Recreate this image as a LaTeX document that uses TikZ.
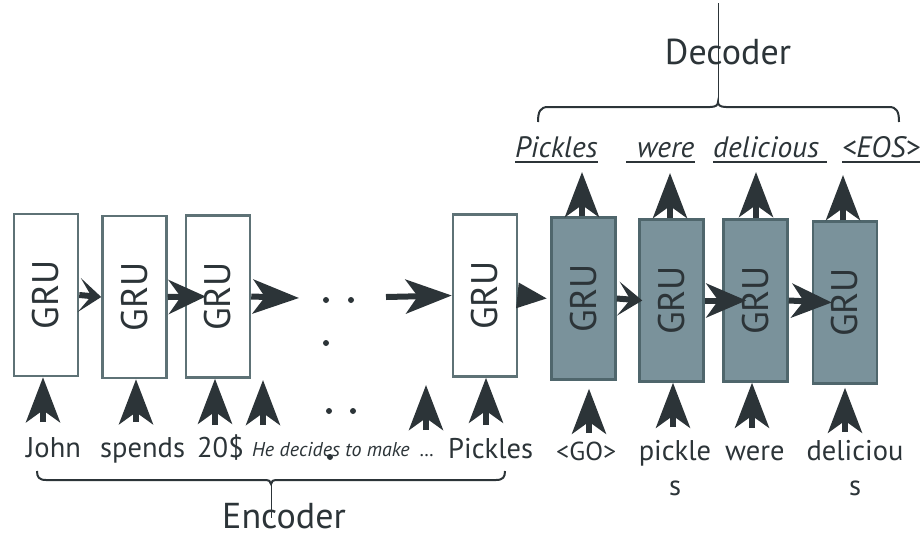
\documentclass[tikz,border=0pt]{standalone}
\usepackage{fontspec}
\setmainfont{PT Sans}
\usetikzlibrary{arrows.meta}

\definecolor{ink}{HTML}{2C3438}
\definecolor{encedge}{HTML}{5E7276}
\definecolor{decfill}{HTML}{7A929B}
\definecolor{decedge}{HTML}{4F666C}

\tikzset{
  encbox/.style={draw=encedge, fill=white, line width=2.5pt, minimum width=64pt, minimum height=162pt, inner sep=0pt},
  decbox/.style={draw=decedge, fill=decfill, line width=2.5pt, minimum width=64pt, minimum height=162pt, inner sep=0pt},
  gru/.style={font=\fontsize{37}{40}\selectfont, text=ink, rotate=90},
  flow/.style={draw=ink, line width=6pt, -{Stealth[length=#1, width=34pt, inset=12pt]}},
  flow/.default=45pt,
  word/.style={font=\fontsize{28.5}{35}\selectfont, text=ink, inner sep=0pt},
  small/.style={font=\fontsize{26}{28}\selectfont, text=ink, inner sep=0pt},
  aside/.style={font=\fontsize{20}{24}\selectfont\itshape, text=ink, inner sep=0pt},
  outword/.style={font=\fontsize{29.5}{34}\selectfont\itshape, text=ink, inner sep=0pt, anchor=base west},
  title/.style={font=\fontsize{36}{40}\selectfont, text=ink, inner sep=0pt, anchor=base},
  uline/.style={draw=ink, line width=2pt},
  brace/.style={draw=ink, line width=2pt},
  braceline/.style={draw=ink, line width=1pt},
  dot/.style={fill=ink},
}

\begin{document}
\begin{tikzpicture}[x=1pt, y=-1pt]
\useasboundingbox (0,0) rectangle (920,536);

% encoder cells
\node[encbox] (e1) at (46,295) {};
\node[encbox] (e2) at (134.5,297) {};
\node[encbox] (e3) at (218,296.5) {};
\node[encbox] (e4) at (485,295.5) {};
% decoder cells
\node[decbox] (d1) at (583.5,298.5) {};
\node[decbox] (d2) at (671.5,300.5) {};
\node[decbox] (d3) at (755.5,300.5) {};
\node[decbox] (d4) at (845,302.5) {};

% recurrent connections
\coordinate (gap) at (299,298);
\coordinate (resume) at (386,297);
\draw[flow=22pt] (e1.east) -- (e2.west);
\draw[flow=37pt] (e2.east) -- ([xshift=21pt]e3.west);
\draw[flow=46pt] (e3.east) -- (gap);
\draw[flow=46pt] (resume) -- (e4.west);
\draw[draw=ink, line width=6pt, -{Triangle[length=30pt, width=24pt]}] (e4.east) -- ([xshift=-3pt]d1.west);
\draw[flow=24pt] (d1.east) -- ([xshift=4pt]d2.west);
\draw[flow=40pt] (d2.east) -- ([xshift=24pt]d3.west);
\draw[flow=40pt] (d3.east) -- ([xshift=20pt]d4.west);

% cell labels
\foreach \c in {e1,e2,e3,e4,d1,d2,d3,d4}
  \node[gru] at (\c) {GRU};

% elided steps
\foreach \p in {(326,300),(351,300),(326,343),(329,411),(353,411),(330,457)}
  \fill[dot] \p circle (3pt);

% inputs
\coordinate (i1) at (43,422);
\coordinate (i2) at (136,422);
\coordinate (i3) at (215,425);
\coordinate (i4) at (263,425);
\coordinate (i4t) at (263,380);
\coordinate (i5) at (426,430);
\coordinate (i5t) at (426,385);
\coordinate (i6) at (486,425);
\coordinate (g1) at (589,433);
\coordinate (g2) at (673,427);
\coordinate (g3) at (752,428);
\coordinate (g4) at (845,432);
\draw[flow] (i1) -- (i1 |- e1.south);
\draw[flow] (i2) -- (i2 |- e2.south);
\draw[flow] (i3) -- (i3 |- e3.south);
\draw[flow] (i4) -- (i4t);
\draw[flow] (i5) -- (i5t);
\draw[flow] (i6) -- (i6 |- e4.south);
\draw[flow] (g1) -- ([yshift=-8pt]g1 |- d1.south);
\draw[flow] (g2) -- (g2 |- d2.south);
\draw[flow] (g3) -- (g3 |- d3.south);
\draw[flow] (g4) -- ([yshift=-3pt]g4 |- d4.south);

% outputs
\coordinate (o1t) at (582,172);
\coordinate (o2t) at (670,173);
\coordinate (o3t) at (756,172);
\coordinate (o4t) at (843,175);
\draw[flow] (o1t |- d1.north) -- (o1t);
\draw[flow] (o2t |- d2.north) -- (o2t);
\draw[flow] (o3t |- d3.north) -- (o3t);
\draw[flow] (o4t |- d4.north) -- (o4t);

% input words
\node[word, anchor=base west] (w1) at (26,457) {John};
\node[word, anchor=base west] (w2) at (100,457) {spends};
\node[word, anchor=base west] (w3) at (197,457) {20\$};
\node[aside, anchor=base west] (w4) at (252,456) {He decides to make};
\node[aside, anchor=base west] (w5) at (420,456) {…};
\node[word, anchor=base west] (w6) at (448,458) {Pickles};
\node[small, anchor=base west] (w7) at (556,460) {<GO>};
\node[word, anchor=base, align=center] (w8) at (675,495) {pickle\\s};
\node[word, anchor=base west] (w9) at (725,460) {were};
\node[word, anchor=base, align=center] (w10) at (855,495) {deliciou\\s};

% output words
\node[outword] (y1) at (515,157) {Pickles};
\node[outword] (y2) at (626,157) {\hspace*{11pt}were};
\node[outword] (y3) at (713,157) {delicious\hspace*{8pt}};
\node[outword] (y4) at (842,157) {<EOS>};
\foreach \y in {y1,y2,y3,y4}
  \draw[uline] ([yshift=-5pt]\y.base west) -- ([yshift=-5pt]\y.base east);

% group labels
\node[title] (enc) at (284,528) {Encoder};
\node[title] (dec) at (728,64) {Decoder};

% encoder brace
\draw[brace] (37,471) .. controls (37,477) and (39,480) .. (46,480) -- (264,480)
  .. controls (269,480) and (271,481) .. (271,484)
  .. controls (271,481) and (273,480) .. (278,480) -- (496,480)
  .. controls (503,480) and (505,477) .. (505,471);
\draw[braceline] (271,484) -- (271,518);

% decoder brace
\draw[brace] (538,122) .. controls (538,112) and (540,107) .. (548,107) -- (710,107)
  .. controls (716,107) and (718,105) .. (718,102)
  .. controls (718,105) and (720,107) .. (726,107) -- (889,107)
  .. controls (897,107) and (899,112) .. (899,122);
\draw[braceline] (718,102) -- (718,3);
\end{tikzpicture}
\end{document}
